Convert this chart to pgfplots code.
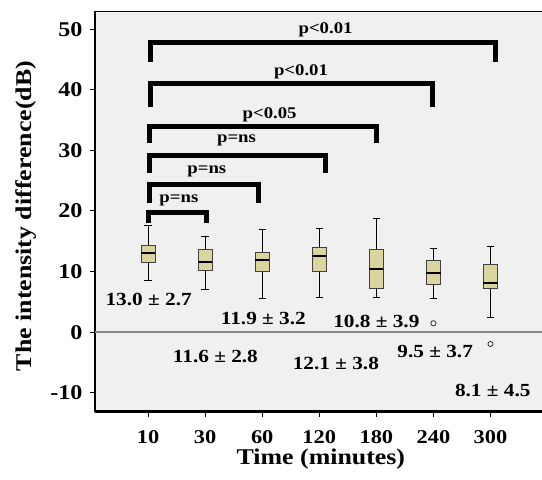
\documentclass[border=0pt]{standalone}
\usepackage{fontspec}
\setmainfont{Liberation Serif}[FakeStretch=1.15]
\usepackage{pgfplots}
\pgfplotsset{compat=1.18}
\usepgfplotslibrary{statistics}
\definecolor{boxfill}{RGB}{218,212,158}
\definecolor{bgc}{RGB}{240,240,240}
\newcommand\pfont{\fontsize{16.3}{18}\selectfont\bfseries}
\newcommand\vfont{\fontsize{18.5}{20}\selectfont\bfseries}
\begin{document}
\begin{tikzpicture}
\begin{axis}[
  scale only axis, width=450pt, height=400.5pt,
  xmin=-0.93, xmax=6.955, ymin=-13.09, ymax=53.0,
  axis x line=bottom, axis y line=left,
  axis line style={line width=2.2pt, -, black},
  axis background/.style={fill=bgc},
  xtick={0,...,6}, xticklabels={10,30,60,120,180,240,300},
  ytick={-10,0,10,20,30,40,50}, yticklabels={-10,0,10,20,30,40,50},
  tick align=outside, major tick length=5pt,
  tick style={black, line width=1pt},
  xticklabel style={font=\fontsize{19.5}{21}\selectfont\bfseries, inner sep=0.5pt, yshift=-13.5pt},
  yticklabel style={font=\fontsize{21}{23}\selectfont\bfseries, xshift=-4pt},
  xlabel={Time (minutes)},
  ylabel={The intensity difference(dB)},
  xlabel style={font=\fontsize{22.5}{25}\selectfont\bfseries, inner sep=0pt, at={(axis description cs:0.502,-0.119)}, anchor=center},
  ylabel style={font=\fontsize{22.5}{25}\selectfont\bfseries, at={(axis description cs:-0.153,0.488)}, anchor=center},
  boxplot/draw direction=y,
  boxplot/box extend=0.25,
  boxplot/whisker extend=0.13,
  boxplot/every median/.style={line width=2.2pt, black},
  boxplot/every whisker/.style={line width=1pt, black},
  boxplot/every box/.style={draw=black!75, line width=0.8pt, fill=boxfill},
]
\coordinate (O) at (rel axis cs:0,0);
\draw[gray!95, line width=1.6pt] (axis cs:-0.93,0) -- (axis cs:6.955,0);

\addplot[boxplot prepared={draw position=0, median=13.12, upper quartile=14.27, lower quartile=11.53, upper whisker=17.57, lower whisker=8.61}] coordinates {};
\addplot[boxplot prepared={draw position=1, median=11.53, upper quartile=13.73, lower quartile=10.15, upper whisker=15.83, lower whisker=6.96}] coordinates {};
\addplot[boxplot prepared={draw position=2, median=11.91, upper quartile=13.12, lower quartile=9.98, upper whisker=16.91, lower whisker=5.48}] coordinates {};
\addplot[boxplot prepared={draw position=3, median=12.57, upper quartile=14.01, lower quartile=9.98, upper whisker=17.15, lower whisker=5.69}] coordinates {};
\addplot[boxplot prepared={draw position=4, median=10.43, upper quartile=13.68, lower quartile=7.29, upper whisker=18.80, lower whisker=5.76}] coordinates {};
\addplot[boxplot prepared={draw position=5, median=9.72, upper quartile=11.86, lower quartile=7.90, upper whisker=13.84, lower whisker=5.48}] coordinates {};
\addplot[boxplot prepared={draw position=6, median=8.12, upper quartile=11.25, lower quartile=7.29, upper whisker=14.06, lower whisker=2.39}] coordinates {};
\addplot[only marks, mark=o, mark size=2.6pt, mark options={black!80, line width=0.8pt}] coordinates {(5,1.47) (6,-1.95)};

% significance brackets
\draw[line width=5pt] (axis cs:0.05,44.6) -- (axis cs:0.05,47.8) -- (axis cs:6.08,47.8) -- (axis cs:6.08,44.6);
\draw[line width=5pt] (axis cs:0.05,37.2) -- (axis cs:0.05,41.1) -- (axis cs:4.99,41.1) -- (axis cs:4.99,37.2);
\draw[line width=5pt] (axis cs:0.02,31.2) -- (axis cs:0.02,33.9) -- (axis cs:4.01,33.9) -- (axis cs:4.01,31.2);
\draw[line width=5pt] (axis cs:0.02,26.2) -- (axis cs:0.02,29.2) -- (axis cs:3.11,29.2) -- (axis cs:3.11,26.2);
\draw[line width=5pt] (axis cs:0.02,21.3) -- (axis cs:0.02,24.4) -- (axis cs:1.93,24.4) -- (axis cs:1.93,21.3);
\draw[line width=5pt] (axis cs:0.0,18.0) -- (axis cs:0.0,19.7) -- (axis cs:1.02,19.7) -- (axis cs:1.02,18.0);
\node[font=\pfont] at (axis cs:3.11,49.9) {p<0.01};
\node[font=\pfont] at (axis cs:2.68,43.0) {p<0.01};
\node[font=\pfont] at (axis cs:2.13,35.8) {p<0.05};
\node[font=\pfont] at (axis cs:1.55,31.6) {p=ns};
\node[font=\pfont] at (axis cs:1.03,26.5) {p=ns};
\node[font=\pfont] at (axis cs:0.54,21.8) {p=ns};

% mean +- sd labels
\node[font=\vfont] at (axis cs:0.01,5.40) {13.0 ± 2.7};
\node[font=\vfont] at (axis cs:1.18,-3.93) {11.6 ± 2.8};
\node[font=\vfont] at (axis cs:2.02,2.29) {11.9 ± 3.2};
\node[font=\vfont] at (axis cs:3.29,-5.13) {12.1 ± 3.8};
\node[font=\vfont] at (axis cs:4.00,1.70) {10.8 ± 3.9};
\node[font=\vfont] at (axis cs:5.03,-3.22) {9.5 ± 3.7};
\node[font=\vfont] at (axis cs:6.04,-9.70) {8.1 ± 4.5};

\draw[line width=2.2pt, line cap=rect] (rel axis cs:0,1) -- (rel axis cs:1,1);
\end{axis}
\pgfresetboundingbox
\path[use as bounding box] ([shift={(-95pt,-68.5pt)}]O) rectangle ([shift={(447pt,411.5pt)}]O);
\end{tikzpicture}
\end{document}
